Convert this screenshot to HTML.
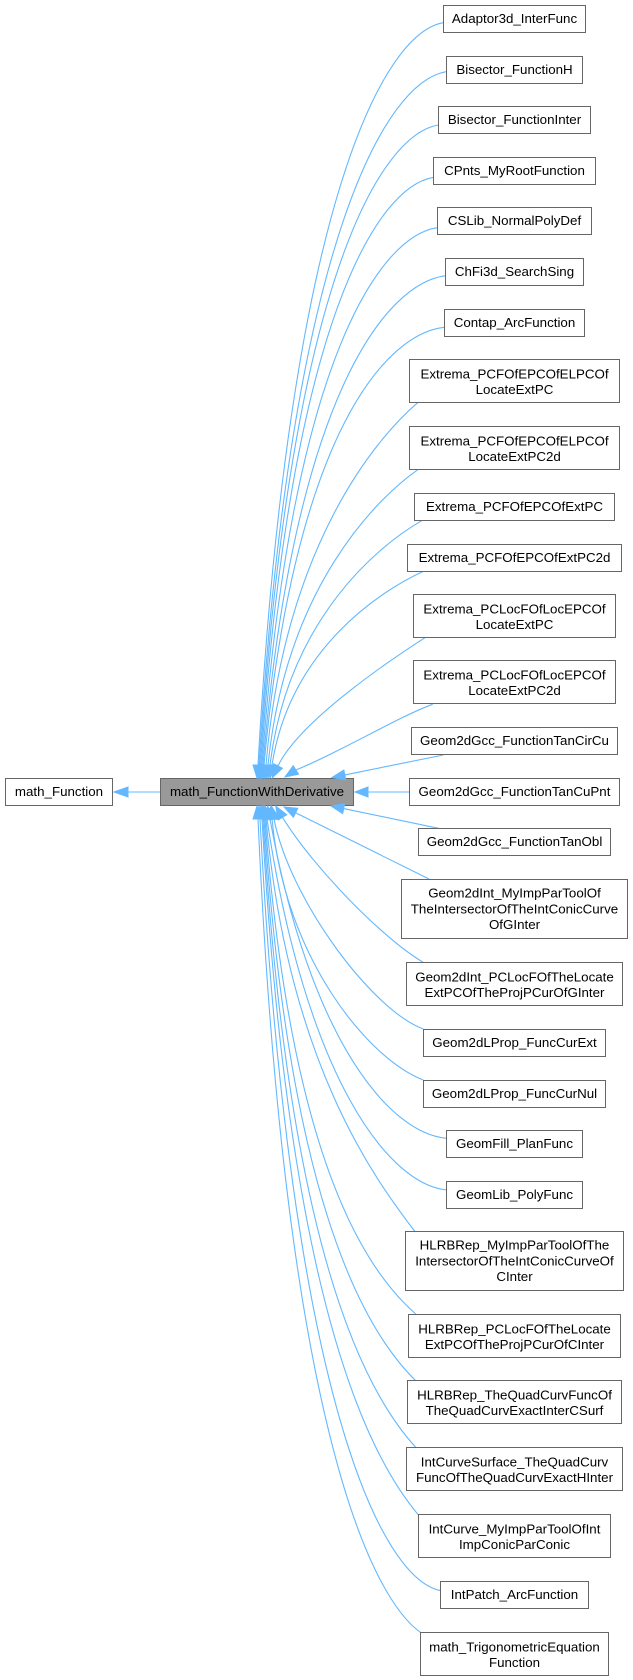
<!DOCTYPE html>
<html>
<head>
<meta charset="utf-8">
<style>
html,body{margin:0;padding:0;background:#fff;}
svg{display:block;}
text{font-family:"Liberation Sans",Arial,sans-serif;font-size:13.33px;fill:#000;}
.e{fill:none;stroke:#63b8ff;stroke-width:1.1;}
.a{fill:#63b8ff;stroke:#63b8ff;stroke-width:1;}
.n{fill:#fff;stroke:#666;stroke-width:1;}
</style>
</head>
<body>
<svg width="633" height="1680" viewBox="0 0 633 1680" xmlns="http://www.w3.org/2000/svg">
<!-- edges -->
<path class="e" d="M443,22.7 C383.8,33.8 289.5,200.9 258,765"/>
<path class="e" d="M446,71.7 C386.2,82.1 290.8,238.1 259,765"/>
<path class="e" d="M438.3,125 C381.2,134.6 290.3,278.6 260,765"/>
<path class="e" d="M433.7,177.3 C378.4,186.1 290.4,318.3 261,765"/>
<path class="e" d="M437.3,227.7 C381.2,235.8 291.8,356.7 262,765"/>
<path class="e" d="M445.7,275.7 C387.2,283 294.1,393.1 263,765"/>
<path class="e" d="M444,327.3 C386.4,333.9 294.6,432.3 264,765"/>
<path class="e" d="M417.7,402.7 C375.2,438.9 284.2,547.6 266,765"/>
<path class="e" d="M418.3,469.3 C376.2,498.9 286,587.6 268,765"/>
<path class="e" d="M421.7,520.7 C379.2,545.1 288.2,618.4 270,765"/>
<path class="e" d="M424,571 C381.4,590.4 290.2,648.6 272,765"/>
<path class="e" d="M425,637.7 C395,657 300,720 278,766"/>
<path class="e" d="M432.7,704.3 C400,716 340,752 295.9,770"/>
<path class="e" d="M443.3,755 L344.8,774.9"/>
<path class="e" d="M409,792 L368,792"/>
<path class="e" d="M443.3,829.3 L343.7,808.6"/>
<path class="e" d="M429,879 L295.6,812.8"/>
<path class="e" d="M423.3,962.3 C385,940 315,870 282.5,817.3"/>
<path class="e" d="M423.3,1029 C372,1010 290,900 274,819"/>
<path class="e" d="M423.3,1080 C370,1060 285,960 272,819"/>
<path class="e" d="M446.7,1138.3 C389.5,1133.5 310,1040 270,819"/>
<path class="e" d="M446.7,1190 C388.9,1184.4 305.8,1078.7 267,819"/>
<path class="e" d="M415,1231.7 C377.75,1182.2 288.4,1066.6 266,819"/>
<path class="e" d="M415.7,1314 C347.9,1254.6 287.6,1116 265,819"/>
<path class="e" d="M415.7,1380.7 C347.4,1313.3 286.8,1156 264,819"/>
<path class="e" d="M415.7,1447.3 C347,1371.9 285.9,1196 263,819"/>
<path class="e" d="M419,1515.7 C348.35,1432.1 285.55,1237 262,819"/>
<path class="e" d="M440.7,1590.7 C382.9,1579.1 290.7,1405.5 260,819"/>
<path class="e" d="M421.7,1633.3 C374.2,1600.7 285.8,1437.9 258,819"/>
<path class="e" d="M160,792 L128,792"/>

<!-- nodes -->
<rect class="n" x="5.5" y="778.5" width="107" height="27"/>
<text x="59" y="796" text-anchor="middle">math_Function</text>
<rect x="160.5" y="778.5" width="193" height="27" fill="#999999" stroke="#666" stroke-width="1"/>
<text x="257" y="796" text-anchor="middle">math_FunctionWithDerivative</text>

<rect class="n" x="443.5" y="5.5" width="142" height="27"/>
<text x="514.5" y="22.8" text-anchor="middle">Adaptor3d_InterFunc</text>
<rect class="n" x="446.5" y="56.5" width="136" height="27"/>
<text x="514.5" y="73.8" text-anchor="middle">Bisector_FunctionH</text>
<rect class="n" x="438.5" y="106.5" width="152" height="27"/>
<text x="514.5" y="123.8" text-anchor="middle">Bisector_FunctionInter</text>
<rect class="n" x="433.5" y="157.5" width="162" height="27"/>
<text x="514.5" y="174.8" text-anchor="middle">CPnts_MyRootFunction</text>
<rect class="n" x="437.5" y="207.5" width="154" height="27"/>
<text x="514.5" y="224.8" text-anchor="middle">CSLib_NormalPolyDef</text>
<rect class="n" x="445.5" y="258.5" width="138" height="27"/>
<text x="514.5" y="275.8" text-anchor="middle">ChFi3d_SearchSing</text>
<rect class="n" x="444.5" y="309.5" width="140" height="27"/>
<text x="514.5" y="326.8" text-anchor="middle">Contap_ArcFunction</text>

<rect class="n" x="409.5" y="359.5" width="210" height="43"/>
<text x="514.5" y="378.3" text-anchor="middle">Extrema_PCFOfEPCOfELPCOf</text>
<text x="514.5" y="394" text-anchor="middle">LocateExtPC</text>
<rect class="n" x="409.5" y="426.5" width="210" height="43"/>
<text x="514.5" y="445.3" text-anchor="middle">Extrema_PCFOfEPCOfELPCOf</text>
<text x="514.5" y="461" text-anchor="middle">LocateExtPC2d</text>
<rect class="n" x="414.5" y="493.5" width="200" height="27"/>
<text x="514.5" y="510.8" text-anchor="middle">Extrema_PCFOfEPCOfExtPC</text>
<rect class="n" x="407.5" y="544.5" width="214" height="27"/>
<text x="514.5" y="561.8" text-anchor="middle">Extrema_PCFOfEPCOfExtPC2d</text>
<rect class="n" x="413.5" y="594.5" width="202" height="43"/>
<text x="514.5" y="613.3" text-anchor="middle">Extrema_PCLocFOfLocEPCOf</text>
<text x="514.5" y="629" text-anchor="middle">LocateExtPC</text>
<rect class="n" x="413.5" y="660.5" width="202" height="43"/>
<text x="514.5" y="679.3" text-anchor="middle">Extrema_PCLocFOfLocEPCOf</text>
<text x="514.5" y="695" text-anchor="middle">LocateExtPC2d</text>
<rect class="n" x="411.5" y="727.5" width="206" height="27"/>
<text x="514.5" y="744.8" text-anchor="middle">Geom2dGcc_FunctionTanCirCu</text>
<rect class="n" x="409.5" y="778.5" width="210" height="27"/>
<text x="514.5" y="795.8" text-anchor="middle">Geom2dGcc_FunctionTanCuPnt</text>
<rect class="n" x="418.5" y="828.5" width="192" height="27"/>
<text x="514.5" y="845.8" text-anchor="middle">Geom2dGcc_FunctionTanObl</text>

<rect class="n" x="401.5" y="879.5" width="226" height="59"/>
<text x="514.5" y="897.7" text-anchor="middle">Geom2dInt_MyImpParToolOf</text>
<text x="514.5" y="913.4" text-anchor="middle">TheIntersectorOfTheIntConicCurve</text>
<text x="514.5" y="929.1" text-anchor="middle">OfGInter</text>
<rect class="n" x="406.5" y="962.5" width="216" height="43"/>
<text x="514.5" y="981.3" text-anchor="middle">Geom2dInt_PCLocFOfTheLocate</text>
<text x="514.5" y="997" text-anchor="middle">ExtPCOfTheProjPCurOfGInter</text>
<rect class="n" x="423.5" y="1029.5" width="182" height="27"/>
<text x="514.5" y="1046.8" text-anchor="middle">Geom2dLProp_FuncCurExt</text>
<rect class="n" x="423.5" y="1080.5" width="182" height="27"/>
<text x="514.5" y="1097.8" text-anchor="middle">Geom2dLProp_FuncCurNul</text>
<rect class="n" x="446.5" y="1130.5" width="136" height="27"/>
<text x="514.5" y="1147.8" text-anchor="middle">GeomFill_PlanFunc</text>
<rect class="n" x="446.5" y="1181.5" width="136" height="27"/>
<text x="514.5" y="1198.8" text-anchor="middle">GeomLib_PolyFunc</text>

<rect class="n" x="405.5" y="1231.5" width="218" height="59"/>
<text x="514.5" y="1249.7" text-anchor="middle">HLRBRep_MyImpParToolOfThe</text>
<text x="514.5" y="1265.4" text-anchor="middle">IntersectorOfTheIntConicCurveOf</text>
<text x="514.5" y="1281.1" text-anchor="middle">CInter</text>
<rect class="n" x="408.5" y="1314.5" width="212" height="43"/>
<text x="514.5" y="1333.3" text-anchor="middle">HLRBRep_PCLocFOfTheLocate</text>
<text x="514.5" y="1349" text-anchor="middle">ExtPCOfTheProjPCurOfCInter</text>
<rect class="n" x="407.5" y="1380.5" width="214" height="43"/>
<text x="514.5" y="1399.3" text-anchor="middle">HLRBRep_TheQuadCurvFuncOf</text>
<text x="514.5" y="1415" text-anchor="middle">TheQuadCurvExactInterCSurf</text>
<rect class="n" x="406.5" y="1447.5" width="216" height="43"/>
<text x="514.5" y="1466.3" text-anchor="middle">IntCurveSurface_TheQuadCurv</text>
<text x="514.5" y="1482" text-anchor="middle">FuncOfTheQuadCurvExactHInter</text>
<rect class="n" x="418.5" y="1514.5" width="192" height="43"/>
<text x="514.5" y="1533.3" text-anchor="middle">IntCurve_MyImpParToolOfInt</text>
<text x="514.5" y="1549" text-anchor="middle">ImpConicParConic</text>
<rect class="n" x="440.5" y="1581.5" width="148" height="27"/>
<text x="514.5" y="1598.8" text-anchor="middle">IntPatch_ArcFunction</text>
<rect class="n" x="420.5" y="1632.5" width="188" height="43"/>
<text x="514.5" y="1651.3" text-anchor="middle">math_TrigonometricEquation</text>
<text x="514.5" y="1667" text-anchor="middle">Function</text>

<!-- arrowheads -->
<polygon class="a" points="257,778 253,765 263,765"/>
<polygon class="a" points="258,778 254,765 264,765"/>
<polygon class="a" points="259,778 255,765 265,765"/>
<polygon class="a" points="260,778 256,765 266,765"/>
<polygon class="a" points="261,778 257,765 267,765"/>
<polygon class="a" points="262,778 258,765 268,765"/>
<polygon class="a" points="263,778 259,765 269,765"/>
<polygon class="a" points="264.5,778 261,765 271,765"/>
<polygon class="a" points="266.2,778 263,765 273,765"/>
<polygon class="a" points="268,778 265,765 275,765"/>
<polygon class="a" points="270,778 267,765 277,765"/>
<polygon class="a" points="272.3,777.7 282.4,768.2 273.6,763.8"/>
<polygon class="a" points="285,777 298.6,774.2 293.2,765.8"/>
<polygon class="a" points="332,777.5 345.8,779.8 343.8,770"/>
<polygon class="a" points="355,792 368,787 368,797"/>
<polygon class="a" points="331,806 344.7,803.7 342.7,813.5"/>
<polygon class="a" points="284,807 297.8,808.3 293.4,817.3"/>
<polygon class="a" points="275.7,806.2 286.8,814.7 278.2,819.9"/>
<polygon class="a" points="271.5,806.2 278.9,818 269.1,820"/>
<polygon class="a" points="270.8,806 267,818.6 277,819.4"/>
<polygon class="a" points="267.6,806.2 274.9,818.1 265.1,819.9"/>
<polygon class="a" points="265.1,806.1 271.9,818.3 262.1,819.7"/>
<polygon class="a" points="264.8,806 261,819 271,819"/>
<polygon class="a" points="264,806 260,819 270,819"/>
<polygon class="a" points="263,806 259,819 269,819"/>
<polygon class="a" points="262,806 258,819 268,819"/>
<polygon class="a" points="261,806 257,819 267,819"/>
<polygon class="a" points="259,806 255,819 265,819"/>
<polygon class="a" points="257,806 253,819 263,819"/>
<polygon class="a" points="114,792 128,787 128,797"/>
</svg>
</body>
</html>
